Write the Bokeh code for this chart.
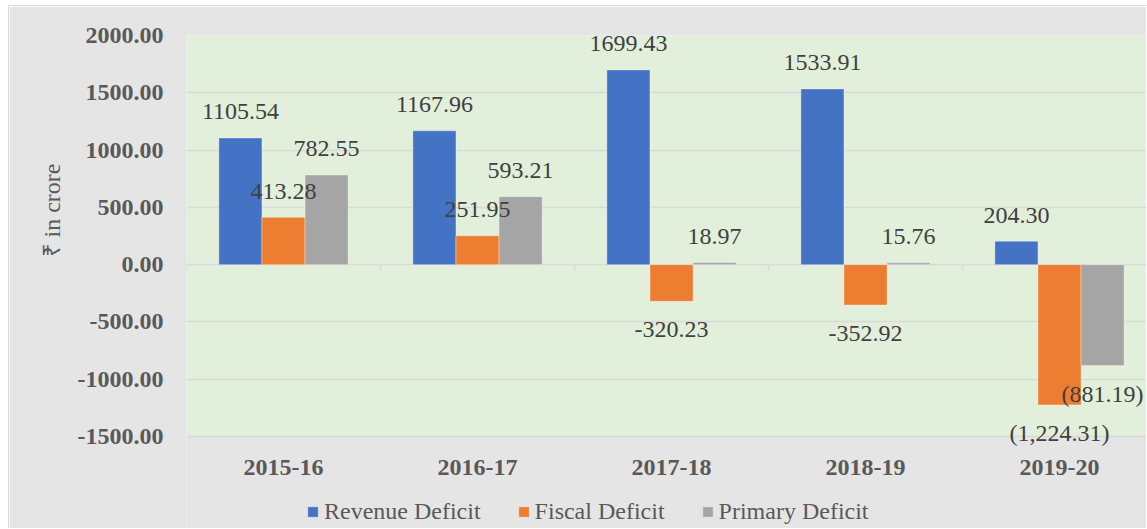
import numpy as np
from bokeh.plotting import figure
from bokeh.layouts import row, column
from bokeh.models import (Range1d, FixedTicker, NumeralTickFormatter, Legend, LegendItem,
                          ColumnDataSource, LabelSet, BoxAnnotation, Spacer)
from bokeh.core.properties import value
from bokeh.embed import file_html
from bokeh.resources import INLINE

# ---- data ----
years = ["2015-16", "2016-17", "2017-18", "2018-19", "2019-20"]
revenue_deficit = [1105.54, 1167.96, 1699.43, 1533.91, 204.30]
fiscal_deficit = [413.28, 251.95, -320.23, -352.92, -1224.31]
primary_deficit = [782.55, 593.21, 18.97, 15.76, -881.19]
revenue_labels = ["1105.54", "1167.96", "1699.43", "1533.91", "204.30"]
fiscal_labels = ["413.28", "251.95", "-320.23", "-352.92", "(1,224.31)"]
primary_labels = ["782.55", "593.21", "18.97", "15.76", "(881.19)"]
series_names = ["Revenue Deficit", "Fiscal Deficit", "Primary Deficit"]
y_ticks = [-1500, -1000, -500, 0, 500, 1000, 1500, 2000]

# ---- styles / layout ----
colors = ["#4472C4", "#ED7D31", "#A5A5A5"]
FONT = "Liberation Serif"
AXIS_TEXT = "#595959"
LABEL_TEXT = "#404040"
GRID = "#D9D9D9"
PLOT_BG = "#E2EFDA"
CHART_BG = "#E5E5E5"
bar_w = 0.222

W, H = 1138, 523          # figure size (after small white offset + 1px border)
LEFT, TOP = 177, 29       # frame offsets inside figure
AXIS_SPAN_PX = 401        # pixels between top and bottom gridline
CAT_PX = 194              # pixels per category

n = len(years)
idx = np.arange(n)
frame_h = H - TOP
frame_w = W - LEFT
upp = (max(y_ticks) - min(y_ticks)) / AXIS_SPAN_PX
y_start = max(y_ticks) - frame_h * upp
x_end = -0.5 + frame_w / CAT_PX

p = figure(width=W, height=H,
           x_range=Range1d(-0.5, x_end), y_range=Range1d(y_start, max(y_ticks)),
           output_backend="svg", toolbar_location=None,
           min_border_left=LEFT, min_border_top=TOP, min_border_right=0, min_border_bottom=0,
           background_fill_color=CHART_BG, border_fill_color=CHART_BG,
           outline_line_color=None)
p.styles = {"border-left": "1px solid #D9D9D9", "border-top": "1px solid #D9D9D9"}

p.add_layout(BoxAnnotation(bottom=min(y_ticks), top=max(y_ticks), fill_color=PLOT_BG,
                           fill_alpha=1, line_color=None, level="image"))

# axes
p.xaxis.fixed_location = min(y_ticks)
p.xaxis.ticker = FixedTicker(ticks=list(idx))
p.xaxis.major_label_overrides = {int(i): years[i] for i in idx}
p.xaxis.axis_line_color = None
p.xaxis.major_tick_line_color = None
p.xaxis.minor_tick_line_color = None
p.xaxis.major_tick_out = 0
p.xaxis.major_label_standoff = 23
p.xaxis.major_label_text_font = FONT
p.xaxis.major_label_text_font_size = "24px"
p.xaxis.major_label_text_font_style = "bold"
p.xaxis.major_label_text_color = AXIS_TEXT

p.yaxis.ticker = FixedTicker(ticks=y_ticks)
p.yaxis.formatter = NumeralTickFormatter(format="0.00")
p.yaxis.axis_line_color = None
p.yaxis.major_tick_line_color = None
p.yaxis.minor_tick_line_color = None
p.yaxis.major_tick_out = 0
p.yaxis.major_label_standoff = 23
p.yaxis.major_label_text_font = FONT
p.yaxis.major_label_text_font_size = "24px"
p.yaxis.major_label_text_font_style = "bold"
p.yaxis.major_label_text_color = AXIS_TEXT
p.yaxis.axis_label = "\u00a0" * 24 + "\u20b9 in crore"
p.yaxis.axis_label_text_font = FONT
p.yaxis.axis_label_text_font_size = "24px"
p.yaxis.axis_label_text_font_style = "normal"
p.yaxis.axis_label_text_color = AXIS_TEXT
p.yaxis.axis_label_standoff = 10

p.xgrid.grid_line_color = None
p.ygrid.ticker = FixedTicker(ticks=y_ticks)
p.ygrid.grid_line_color = GRID
p.ygrid.grid_line_width = 1.5

# category boundary ticks on the zero line
bounds = np.arange(n + 1) - 0.5
p.ray(x=bounds, y=[0] * len(bounds), length=6, length_units="screen",
      angle=-np.pi / 2, line_color=GRID, line_width=1.5)

all_vals = [revenue_deficit, fiscal_deficit, primary_deficit]
all_labels = [revenue_labels, fiscal_labels, primary_labels]
items = []
lx, ly, lt, lo = [], [], [], []
for j, (vals, labs, name, col) in enumerate(zip(all_vals, all_labels, series_names, colors)):
    xs = idx + (j - 1) * bar_w
    r = p.vbar(x=xs, top=vals, bottom=0, width=bar_w, fill_color=col,
               line_color="white", line_alpha=0.35, line_width=1)
    items.append(LegendItem(label=name, renderers=[r]))
    lx += list(xs)
    ly += list(vals)
    lt += list(labs)
    lo += [26 if v >= 0 else -28 for v in vals]

lsrc = ColumnDataSource(dict(x=lx, y=ly, text=lt, off=lo))
labels = LabelSet(x="x", y="y", text="text", y_offset="off", source=lsrc,
                  text_align="center", text_baseline="middle",
                  text_font=value(FONT), text_font_size="24px", text_color=LABEL_TEXT)
p.add_layout(labels)

legend = Legend(items=items, orientation="horizontal", location=(120, 4),
                label_text_font=FONT, label_text_font_size="24px",
                label_text_color=AXIS_TEXT, glyph_width=13, glyph_height=13,
                label_height=24, label_standoff=5, spacing=36, padding=0, margin=0,
                background_fill_alpha=0, border_line_color=None)
p.add_layout(legend, "center")

layout = row(Spacer(width=8), column(Spacer(height=5), p))
open("out.html", "w").write(file_html(layout, INLINE))
